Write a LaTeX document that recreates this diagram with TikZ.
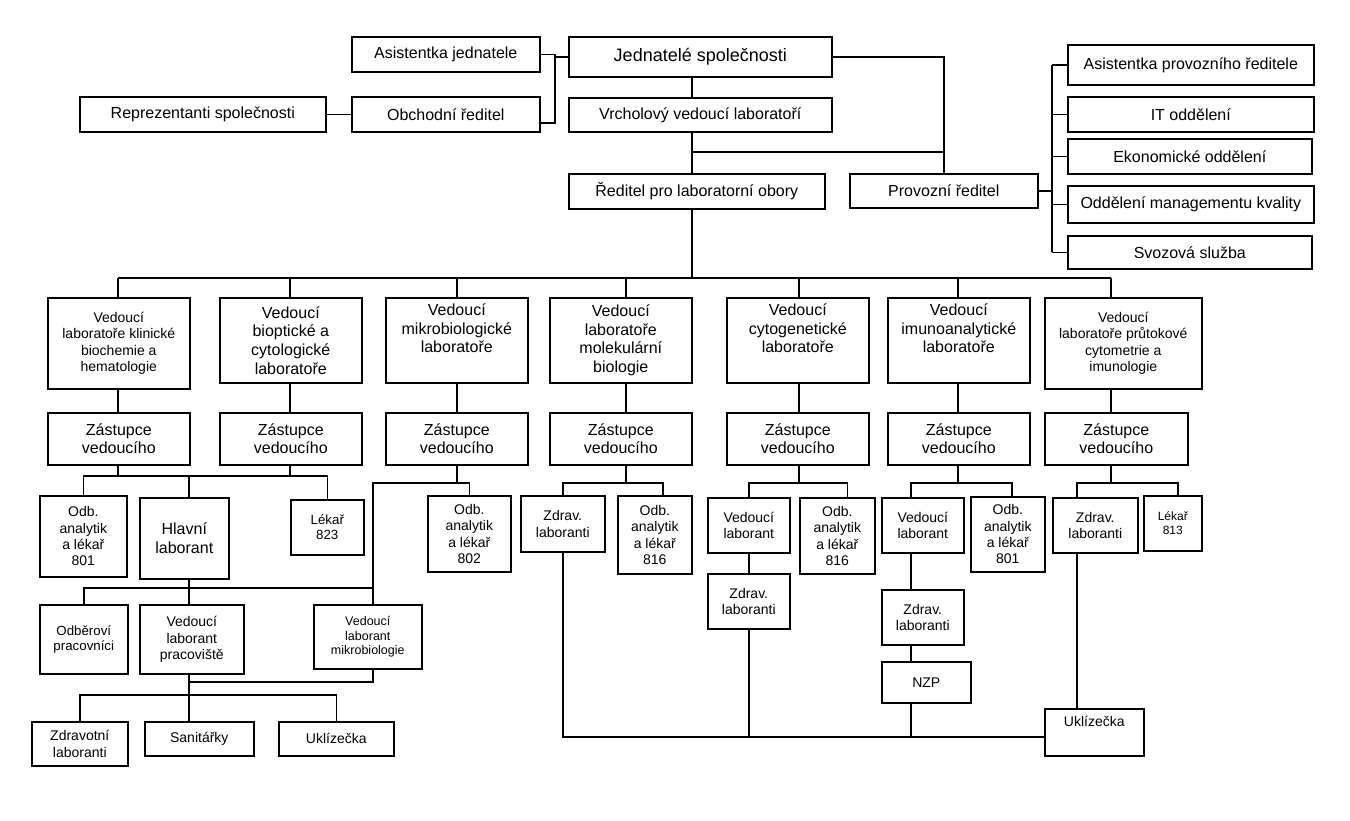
\documentclass[tikz,border=0pt]{standalone}
\usepackage{fontspec}
\setmainfont{Liberation Sans}

\begin{document}
\begin{tikzpicture}[
    x=1pt, y=-1pt,
    box/.style={draw, line width=1.6pt, anchor=north west, align=center, inner sep=2pt},
    sz/.style 2 args={minimum width=#1pt, minimum height=#2pt},
    fbig/.style={font=\fontsize{18}{21}\selectfont},
    fnorm/.style={font=\fontsize{16}{18.7}\selectfont},
    fsmall/.style={font=\fontsize{14}{16.4}\selectfont},
    fxs/.style={font=\fontsize{13.3}{15.5}\selectfont},
    ftiny/.style={font=\fontsize{12.5}{14.5}\selectfont},
    conn/.style={line width=1.5pt}
]
\useasboundingbox (0,0) rectangle (1350,820);

% top management
\node[box, fnorm, sz={188}{35}] (asj) at (351,36) {Asistentka jednatele};
\node[box, fbig, sz={263}{40}] (jed) at (568,36) {Jednatelé společnosti};
\node[box, fnorm, sz={246}{35}] (rep) at (79,96) {Reprezentanti společnosti};
\node[box, fnorm, sz={188}{35}] (obch) at (351,96) {Obchodní ředitel};
\node[box, fnorm, sz={263}{34}] (vrch) at (568,97) {Vrcholový vedoucí laboratoří};
\node[box, fnorm, sz={256}{35}] (red) at (568,173) {Ředitel pro laboratorní obory};
\node[box, fnorm, sz={188}{34}] (prov) at (849,173) {Provozní ředitel};

% operations
\node[box, fnorm, sz={246}{40}] (ap) at (1067,44) {Asistentka provozního ředitele};
\node[box, fnorm, sz={246}{35}] (it) at (1067,96) {IT oddělení};
\node[box, fnorm, sz={244}{35}] (ek) at (1067,138) {Ekonomické oddělení};
\node[box, fnorm, sz={246}{37}] (omk) at (1067,185) {Oddělení managementu kvality};
\node[box, fnorm, sz={244}{33}] (svoz) at (1067,235) {Svozová služba};

% laboratories
\node[box, fsmall, sz={142}{91}] (lab1) at (47,297) {Vedoucí\\laboratoře klinické\\biochemie a\\hematologie};
\node[box, fnorm, sz={142}{85}] (lab2) at (219,297) {Vedoucí\\bioptické a\\cytologické\\laboratoře};
\node[box, fnorm, sz={142}{85}] (lab3) at (385,297) {Vedoucí\\mikrobiologické\\laboratoře\\\strut};
\node[box, fnorm, sz={142}{85}] (lab4) at (549,297) {Vedoucí\\laboratoře\\molekulární\\biologie};
\node[box, fnorm, sz={142}{85}] (lab5) at (726,297) {Vedoucí\\cytogenetické\\laboratoře\\\strut};
\node[box, fnorm, sz={142}{85}] (lab6) at (887,297) {Vedoucí\\imunoanalytické\\laboratoře\\\strut};
\node[box, fsmall, sz={157}{91}] (lab7) at (1044,297) {Vedoucí\\laboratoře průtokové\\cytometrie a\\imunologie};

\foreach \i/\x in {1/47,2/219,3/385,4/549,5/726,6/887}
  \node[box, fnorm, sz={142}{52}] (zas\i) at (\x,412) {Zástupce\\vedoucího};
\node[box, fnorm, sz={143}{52}] (zas7) at (1044,412) {Zástupce\\vedoucího};

% staff
\node[box, fsmall, sz={87}{81}] (odb1) at (39,495) {Odb.\\analytik\\a lékař\\801};
\node[box, fnorm, sz={89}{81}] (hl) at (139,497) {Hlavní\\laborant};
\node[box, fxs, sz={73}{55}] (lek1) at (290,499) {Lékař\\823};
\node[box, fsmall, sz={83}{76}] (odb2) at (427,495) {Odb.\\analytik\\a lékař\\802};
\node[box, fsmall, sz={84}{56}] (zd4) at (520,495) {Zdrav.\\laboranti};
\node[box, fsmall, sz={74}{78}] (od4) at (617,495) {Odb.\\analytik\\a lékař\\816};
\node[box, fsmall, sz={82}{55}] (vl5) at (707,497) {Vedoucí\\laborant};
\node[box, fsmall, sz={75}{76}] (od5) at (799,497) {Odb.\\analytik\\a lékař\\816};
\node[box, fsmall, sz={82}{55}] (zd5) at (707,573) {Zdrav.\\laboranti};
\node[box, fsmall, sz={82}{55}] (vl6) at (881,497) {Vedoucí\\laborant};
\node[box, fsmall, sz={74}{75}] (od6) at (970,496) {Odb.\\analytik\\a lékař\\801};
\node[box, fsmall, sz={82}{55}] (zd6) at (881,589) {Zdrav.\\laboranti};
\node[box, fsmall, sz={89}{41}] (nzp) at (881,661) {NZP};
\node[box, fsmall, sz={85}{55}] (zd7) at (1052,497) {Zdrav.\\laboranti};
\node[box, font=\fontsize{12}{14}\selectfont, sz={58}{55}] (lek2) at (1143,495) {Lékař\\813};
\node[box, fsmall, sz={99}{47}] (ukl2) at (1044,708) {Uklízečka\\\strut};

\node[box, fxs, sz={88}{69}] (odbp) at (39,604) {Odběroví\\pracovníci};
\node[box, fsmall, sz={104}{69}] (vlp) at (139,604) {Vedoucí\\laborant\\pracoviště};
\node[box, ftiny, sz={108}{64}] (vlm) at (313,604) {Vedoucí\\laborant\\mikrobiologie};
\node[box, fsmall, sz={96}{44}] (zl) at (31,721) {Zdravotní\\laboranti};
\node[box, fsmall, sz={109}{34}] (san) at (144,721) {Sanitářky};
\node[box, fsmall, sz={115}{34}] (ukl1) at (278,721) {Uklízečka};

% bus lines
\coordinate (lbus) at (555,0);
\coordinate (cspine) at (692,0);
\coordinate (pbus) at (1052,0);
\coordinate (mid) at (692,152);
\coordinate (b12) at (0,476);
\coordinate (b3) at (0,483);
\coordinate (b4) at (0,588);
\coordinate (b5) at (0,682);
\coordinate (b6) at (0,695);
\coordinate (bb) at (0,737);
\coordinate (hx) at (189,0);
\coordinate (mx) at (373,0);
\coordinate (vx6) at (911,0);
\coordinate (zx7) at (1077,0);
\coordinate (obr) at ([yshift=-8.5pt]obch.east);
\coordinate (od4t) at ([xshift=8pt]od4.north);
\coordinate (od5t) at ([xshift=10pt]od5.north);
\coordinate (od6t) at ([xshift=4pt]od6.north);
\coordinate (lk2t) at ([xshift=5pt]lek2.north);

% top connectors
\draw[conn] (asj.east) -| (obr -| lbus) -- (obr);
\draw[conn] (jed.west) -- (jed.west -| lbus);
\draw[conn] (rep) -- (obch);
\draw[conn] (jed.south -| cspine) -- (vrch.north -| cspine);
\draw[conn] (vrch.south -| cspine) -- (red.north -| cspine);
\draw[conn] (jed.east) -| (prov.north);
\draw[conn] (mid) -- (mid -| prov.north);
\draw[conn] (prov.east) -- (prov.east -| pbus);
\draw[conn] (pbus |- ap.west) -- (pbus |- svoz.west);
\foreach \n in {ap,it,ek,omk,svoz}
  \draw[conn] (pbus |- \n.west) -- (\n.west);

% laboratories
\foreach \i/\sx in {1/118,2/290,3/457,4/626,5/799,6/958,7/1111}{
  \coordinate (sp\i) at (\sx,278);
  \draw[conn] (sp\i) -- (sp\i |- lab\i.north);
  \draw[conn] (sp\i |- lab\i.south) -- (sp\i |- zas\i.north);
}
\draw[conn] (sp1) -- (sp7);
\draw[conn] (red.south -| cspine) -- (cspine |- sp1);
\draw[conn] (sp1 |- zas1.south) -- (sp1 |- b12);
\draw[conn] (sp2 |- zas2.south) -- (sp2 |- b12);
\foreach \i in {3,...,7}
  \draw[conn] (sp\i |- zas\i.south) -- (sp\i |- b3);

% clinical biochemistry, cytology, microbiology
\draw[conn] (odb1.north) |- (lek1.north |- b12) -- (lek1.north);
\draw[conn] (hx |- b12) -- (hx |- hl.north);
\draw[conn] (hx |- hl.south) -- (hx |- vlp.north);
\draw[conn] (odb2.north) |- (mx |- b3) |- (odbp.north |- b4) -- (odbp.north);
\draw[conn] (mx |- b4) -- (mx |- vlm.north);
\draw[conn] (hx |- vlp.south) -- (hx |- b6);
\draw[conn] (mx |- vlm.south) |- (hx |- b5);
\draw[conn] (zl.north) |- (ukl1.north |- b6) -- (ukl1.north);
\draw[conn] (hx |- b6) -- (hx |- san.north);

% molecular biology, cytogenetics, immunoanalysis, cytometry
\draw[conn] (zd4.north) |- (od4t |- b3) -- (od4t);
\draw[conn] (zd4.south) |- (ukl2.west |- bb);
\draw[conn] (vl5.north) |- (od5t |- b3) -- (od5t);
\draw[conn] (vl5) -- (zd5);
\draw[conn] (zd5.south) -- (zd5.south |- bb);
\draw[conn] (vx6 |- vl6.north) |- (od6t |- b3) -- (od6t);
\draw[conn] (vx6 |- vl6.south) -- (vx6 |- zd6.north);
\draw[conn] (vx6 |- zd6.south) -- (vx6 |- nzp.north);
\draw[conn] (vx6 |- nzp.south) -- (vx6 |- bb);
\draw[conn] (zx7 |- zd7.north) |- (lk2t |- b3) -- (lk2t);
\draw[conn] (zx7 |- zd7.south) -- (zx7 |- ukl2.north);
\end{tikzpicture}
\end{document}
